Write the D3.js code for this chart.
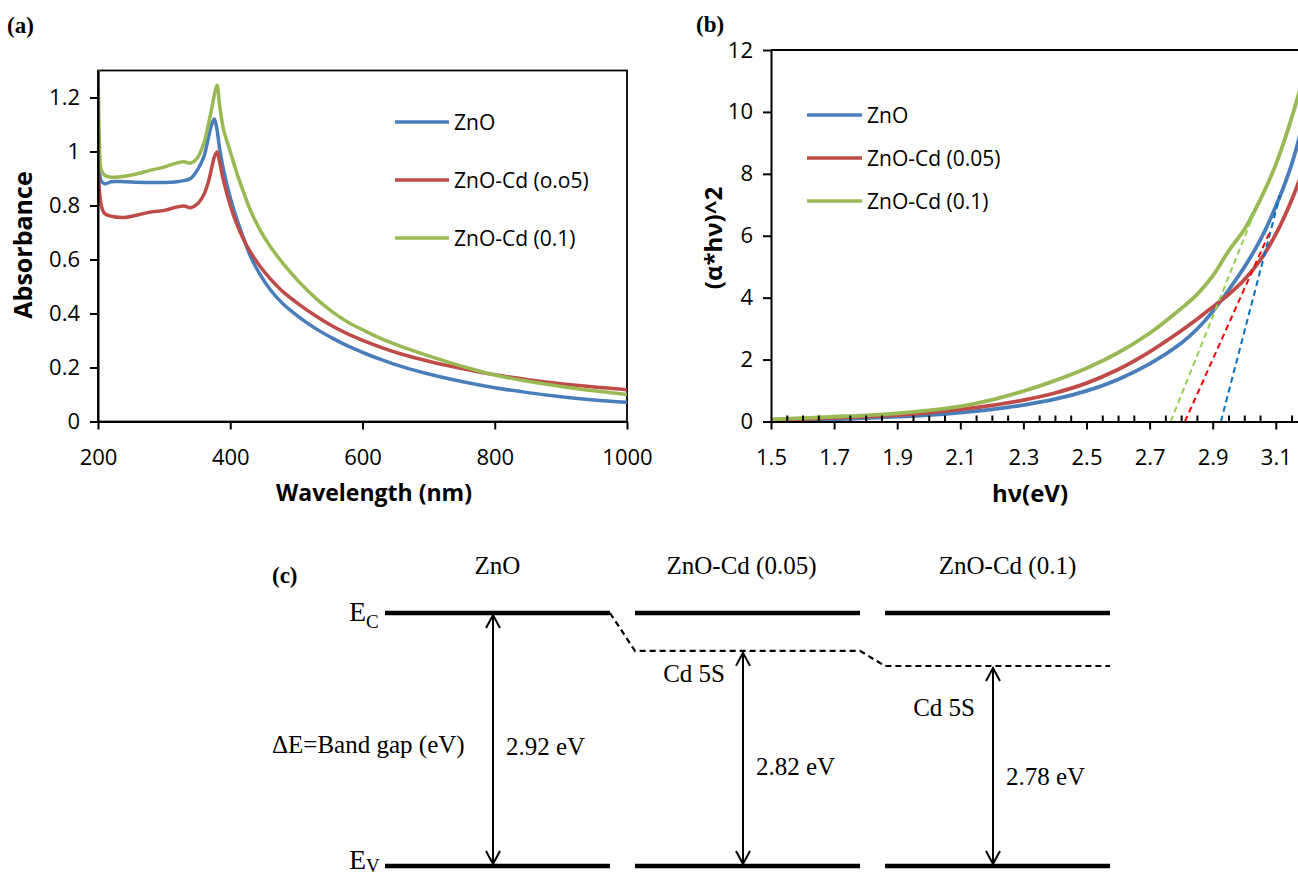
<!DOCTYPE html>
<html>
<head>
<meta charset="utf-8">
<script src="https://cdnjs.cloudflare.com/ajax/libs/d3/7.8.5/d3.min.js"></script>
<style>
  body { margin: 0; background: #fff; }
  text { fill: #000; }
  .sans { font-family: "Open Sans", sans-serif; }
  .serif { font-family: "Liberation Serif", "Times New Roman", serif; }
</style>
</head>
<body>
<div id="figure"></div>
<script>
// ZnO / ZnO-Cd figure: absorbance, tauc plot and band diagram

// panel (a) absorbance spectra
let wavelength = [200, 202, 205, 210, 220, 240, 260, 280, 300, 320, 330, 340, 350, 360, 366, 372, 376, 380, 384, 390,
  400, 410, 420, 430, 445, 460, 480, 505, 530, 555, 580, 606, 630, 656, 700, 750, 800, 850, 900, 950, 1000];
let absZnO = [0.98, 0.93, 0.89, 0.88, 0.888, 0.888, 0.886, 0.885, 0.885, 0.888, 0.892, 0.90, 0.93, 0.98, 1.04, 1.10, 1.12, 1.08, 1.01, 0.93,
  0.83, 0.75, 0.68, 0.615, 0.545, 0.49, 0.435, 0.385, 0.343, 0.308, 0.277, 0.25, 0.228, 0.206, 0.176, 0.148, 0.125, 0.107, 0.092, 0.080, 0.071];
let absCd05 = [0.97, 0.86, 0.80, 0.77, 0.76, 0.756, 0.765, 0.776, 0.782, 0.795, 0.798, 0.792, 0.805, 0.84, 0.88, 0.94, 0.98, 0.998, 0.96, 0.89,
  0.80, 0.73, 0.675, 0.63, 0.575, 0.53, 0.48, 0.432, 0.39, 0.353, 0.322, 0.295, 0.273, 0.252, 0.223, 0.196, 0.173, 0.155, 0.14, 0.128, 0.118];
let absCd10 = [1.35, 1.05, 0.93, 0.912, 0.905, 0.908, 0.918, 0.931, 0.942, 0.958, 0.962, 0.957, 0.975, 1.03, 1.09, 1.16, 1.21, 1.245, 1.17, 1.08,
  1.0, 0.92, 0.85, 0.785, 0.71, 0.65, 0.585, 0.515, 0.455, 0.405, 0.365, 0.333, 0.305, 0.28, 0.243, 0.205, 0.172, 0.149, 0.13, 0.114, 0.10];
let legendA = ["ZnO", "ZnO-Cd (o.o5)", "ZnO-Cd (0.1)"];
let ticksAx = [200, 400, 600, 800, 1000];
let ticksAy = [0, 0.2, 0.4, 0.6, 0.8, 1, 1.2];
let labelsAy = ["0", "0.2", "0.4", "0.6", "0.8", "1", "1.2"];

// panel (b) tauc plot
let energy = [1.5, 1.6, 1.7, 1.8, 1.9, 2.0, 2.1, 2.2, 2.3, 2.4, 2.5, 2.6, 2.7, 2.8, 2.85, 2.9, 2.95, 3.0, 3.05, 3.1, 3.15, 3.2];
let taucZnO = [0.02, 0.04, 0.07, 0.11, 0.155, 0.21, 0.29, 0.39, 0.53, 0.72, 0.99, 1.36, 1.86, 2.53, 2.98, 3.55, 4.24, 4.98, 5.85, 6.95, 8.3, 10.2];
let taucCd05 = [0.05, 0.08, 0.12, 0.16, 0.21, 0.29, 0.39, 0.52, 0.69, 0.92, 1.24, 1.68, 2.25, 2.93, 3.3, 3.7, 4.1, 4.58, 5.2, 6.05, 7.15, 8.5];
let taucCd10 = [0.07, 0.11, 0.155, 0.2, 0.265, 0.36, 0.49, 0.70, 0.98, 1.32, 1.72, 2.22, 2.85, 3.65, 4.1, 4.7, 5.5, 6.2, 7.15, 8.3, 9.8, 11.6];
let legendB = ["ZnO", "ZnO-Cd (0.05)", "ZnO-Cd (0.1)"];
// linear fits: x-intercept and upper end of each dashed line
let fitStart = [2.926, 2.812, 2.767];
let fitEndX = [3.113, 3.08, 3.04];
let fitEndY = [7.3, 6.1, 6.95];
let ticksBx = [1.5, 1.7, 1.9, 2.1, 2.3, 2.5, 2.7, 2.9, 3.1];
let labelsBx = ["1.5", "1.7", "1.9", "2.1", "2.3", "2.5", "2.7", "2.9", "3.1"];
let ticksBy = [0, 2, 4, 6, 8, 10, 12];

// panel (c) band diagram
let bandNames = ["ZnO", "ZnO-Cd (0.05)", "ZnO-Cd (0.1)"];
let bandGaps = [2.92, 2.82, 2.78];
let gapLabels = ["2.92 eV", "2.82 eV", "2.78 eV"];

// colors
let colors = ["#4A7EBB", "#BE4B48", "#98B954"];
let fitColors = ["#0070C0", "#FF0000", "#92D050"];

let svg = d3.select("#figure").append("svg")
  .attr("width", 1298)
  .attr("height", 879);

let defs = svg.append("defs");

function styleAxis(g, fontSize) {
  g.select(".domain").attr("stroke", "#000").attr("stroke-width", 2);
  g.selectAll(".tick line").attr("stroke", "#000").attr("stroke-width", 2);
  g.selectAll(".tick text")
    .attr("class", "sans")
    .attr("font-size", fontSize)
    .attr("fill", "#000");
}

function drawLegend(g, names, x0, x1, ys) {
  names.forEach(function(name, i) {
    g.append("line")
      .attr("x1", x0).attr("x2", x1)
      .attr("y1", ys[i]).attr("y2", ys[i])
      .attr("stroke", colors[i])
      .attr("stroke-width", 3.5);
    g.append("text")
      .attr("class", "sans")
      .attr("x", x1 + 5)
      .attr("y", ys[i])
      .attr("dy", "0.4em")
      .attr("font-size", 21)
      .text(name);
  });
}

// PANEL A
function panelA() {
  let x = d3.scaleLinear().domain([200, 1000]).range([98, 627]);
  let y = d3.scaleLinear().domain([0, 1.3]).range([421.5, 70.5]);
  let g = svg.append("g");

  defs.append("clipPath").attr("id", "clipA")
    .append("rect")
    .attr("x", x(200)).attr("y", y(1.3))
    .attr("width", x(1000) - x(200)).attr("height", y(0) - y(1.3));

  // frame
  g.append("rect")
    .attr("x", x(200)).attr("y", y(1.3))
    .attr("width", x(1000) - x(200)).attr("height", y(0) - y(1.3))
    .attr("fill", "none")
    .attr("stroke", "#000")
    .attr("stroke-width", 1.8);

  let line = d3.line()
    .x(function(d) { return x(d[0]); })
    .y(function(d) { return y(d[1]); })
    .curve(d3.curveCatmullRom.alpha(0.5));

  [absZnO, absCd05, absCd10].forEach(function(vals, i) {
    g.append("path")
      .datum(d3.zip(wavelength, vals))
      .attr("clip-path", "url(#clipA)")
      .attr("fill", "none")
      .attr("stroke", colors[i])
      .attr("stroke-width", 3.5)
      .attr("stroke-linejoin", "round")
      .attr("d", line);
  });

  let xAxis = g.append("g")
    .attr("transform", "translate(0," + y(0) + ")")
    .call(d3.axisBottom(x).tickValues(ticksAx).tickFormat(d3.format("d"))
      .tickSize(8).tickSizeOuter(0).tickPadding(20));
  styleAxis(xAxis, 22);

  let yAxis = g.append("g")
    .attr("transform", "translate(" + x(200) + ",0)")
    .call(d3.axisLeft(y).tickValues(ticksAy)
      .tickFormat(function(d, i) { return labelsAy[i]; })
      .tickSize(8).tickSizeOuter(0).tickPadding(10));
  styleAxis(yAxis, 22);

  g.append("text")
    .attr("class", "sans")
    .attr("font-weight", "bold")
    .attr("font-size", 23)
    .attr("text-anchor", "middle")
    .attr("x", 374)
    .attr("y", 501)
    .text("Wavelength (nm)");

  g.append("text")
    .attr("class", "sans")
    .attr("font-weight", "bold")
    .attr("font-size", 25)
    .attr("text-anchor", "middle")
    .attr("transform", "translate(32,245)rotate(-90)")
    .text("Absorbance");

  drawLegend(g, legendA, 395, 449, [122, 180, 238]);

  g.append("text")
    .attr("class", "serif")
    .attr("font-weight", "bold")
    .attr("font-size", 23)
    .attr("x", 7).attr("y", 33)
    .text("(a)");
}

// PANEL B
function panelB() {
  let x = d3.scaleLinear().domain([1.5, 3.3]).range([771, 771 + 9 * 63.1]);
  let y = d3.scaleLinear().domain([0, 12]).range([421.5, 50]);
  let g = svg.append("g");

  // top border
  g.append("line")
    .attr("x1", x(1.5)).attr("x2", x(3.3))
    .attr("y1", y(12)).attr("y2", y(12))
    .attr("stroke", "#000")
    .attr("stroke-width", 1.8);

  let line = d3.line()
    .x(function(d) { return x(d[0]); })
    .y(function(d) { return y(d[1]); })
    .curve(d3.curveCatmullRom.alpha(0.5));

  [taucZnO, taucCd05, taucCd10].forEach(function(vals, i) {
    g.append("path")
      .datum(d3.zip(energy, vals))
      .attr("fill", "none")
      .attr("stroke", colors[i])
      .attr("stroke-width", 3.8)
      .attr("d", line);
  });

  // extrapolated band gap lines
  fitStart.forEach(function(e0, i) {
    g.append("line")
      .attr("x1", x(e0)).attr("y1", y(0))
      .attr("x2", x(fitEndX[i])).attr("y2", y(fitEndY[i]))
      .attr("stroke", fitColors[i])
      .attr("stroke-width", 2)
      .attr("stroke-dasharray", "6,4");
  });

  // minor ticks point inwards
  let majors = d3.range(150, 335, 20);
  let minors = d3.range(150, 335, 5)
    .filter(function(d) { return majors.indexOf(d) < 0; })
    .map(function(d) { return d / 100; });
  let minorAxis = g.append("g")
    .attr("transform", "translate(0," + y(0) + ")")
    .call(d3.axisBottom(x).tickValues(minors).tickFormat("").tickSize(-6).tickSizeOuter(0));
  styleAxis(minorAxis, 22);

  let xAxis = g.append("g")
    .attr("transform", "translate(0," + y(0) + ")")
    .call(d3.axisBottom(x).tickValues(ticksBx)
      .tickFormat(function(d, i) { return labelsBx[i]; })
      .tickSize(8).tickSizeOuter(0).tickPadding(20));
  styleAxis(xAxis, 22);

  let yAxis = g.append("g")
    .attr("transform", "translate(" + x(1.5) + ",0)")
    .call(d3.axisLeft(y).tickValues(ticksBy).tickFormat(d3.format("d"))
      .tickSize(8).tickSizeOuter(0).tickPadding(10));
  styleAxis(yAxis, 22);

  g.append("text")
    .attr("class", "sans")
    .attr("font-weight", "bold")
    .attr("font-size", 24)
    .attr("text-anchor", "middle")
    .attr("x", 1030)
    .attr("y", 502)
    .text("h\u03BD(eV)");

  g.append("text")
    .attr("class", "sans")
    .attr("font-weight", "bold")
    .attr("font-size", 24)
    .attr("text-anchor", "middle")
    .attr("transform", "translate(722,238)rotate(-90)")
    .text("(\u03B1*h\u03BD)^2");

  drawLegend(g, legendB, 807, 862, [115, 158, 201]);

  g.append("text")
    .attr("class", "serif")
    .attr("font-weight", "bold")
    .attr("font-size", 23)
    .attr("x", 696).attr("y", 32)
    .text("(b)");
}

// PANEL C
function panelC() {
  let g = svg.append("g");
  let col = d3.scaleBand().domain(bandNames).range([385, 1110]).paddingInner(0.1);
  let bw = col.bandwidth();
  // conduction side levels (schematic scale, not to absolute energy)
  let level = d3.scaleLinear().domain([2.92, 2.78]).range([613, 666]);
  let yV = 866;

  // solid Ec and Ev lines
  bandNames.forEach(function(name, i) {
    g.append("line")
      .attr("x1", col(name)).attr("x2", col(name) + bw)
      .attr("y1", level(bandGaps[0])).attr("y2", level(bandGaps[0]))
      .attr("stroke", "#000").attr("stroke-width", 4.5);
    g.append("line")
      .attr("x1", col(name)).attr("x2", col(name) + bw)
      .attr("y1", yV).attr("y2", yV)
      .attr("stroke", "#000").attr("stroke-width", 4.5);
  });

  // dashed Cd 5S levels connected from ZnO Ec
  let pts = [[col(bandNames[0]) + bw, level(bandGaps[0])]];
  for (let i = 1; i < bandNames.length; i++) {
    pts.push([col(bandNames[i]), level(bandGaps[i])]);
    pts.push([col(bandNames[i]) + bw, level(bandGaps[i])]);
  }
  g.append("path")
    .attr("d", d3.line()(pts))
    .attr("fill", "none")
    .attr("stroke", "#000")
    .attr("stroke-width", 2.2)
    .attr("stroke-dasharray", "6,4");

  // arrows and labels
  let cdOffset = [0, 31, 50];
  let titleShift = [0, -6, 10];
  bandNames.forEach(function(name, i) {
    let ax = col(name) + bw * 0.48;
    let top = level(bandGaps[i]) + 2;
    let bot = yV - 2;
    g.append("line")
      .attr("x1", ax).attr("x2", ax)
      .attr("y1", top).attr("y2", bot)
      .attr("stroke", "#000").attr("stroke-width", 2);
    g.append("path")
      .attr("d", "M" + (ax - 7) + "," + (top + 13) + "L" + ax + "," + top + "L" + (ax + 7) + "," + (top + 13))
      .attr("fill", "none").attr("stroke", "#000").attr("stroke-width", 2);
    g.append("path")
      .attr("d", "M" + (ax - 7) + "," + (bot - 13) + "L" + ax + "," + bot + "L" + (ax + 7) + "," + (bot - 13))
      .attr("fill", "none").attr("stroke", "#000").attr("stroke-width", 2);

    g.append("text")
      .attr("class", "serif")
      .attr("font-size", 25)
      .attr("x", ax + 13)
      .attr("y", (top + bot) / 2 + 15 + i * 2)
      .text(gapLabels[i]);

    g.append("text")
      .attr("class", "serif")
      .attr("font-size", 25)
      .attr("text-anchor", "middle")
      .attr("x", col(name) + bw / 2 + titleShift[i])
      .attr("y", 574)
      .text(name);

    if (i > 0) {
      g.append("text")
        .attr("class", "serif")
        .attr("font-size", 25)
        .attr("text-anchor", "end")
        .attr("x", ax - 18)
        .attr("y", level(bandGaps[i]) + cdOffset[i])
        .text("Cd 5S");
    }
  });

  g.append("text")
    .attr("class", "serif")
    .attr("font-size", 25)
    .attr("x", 272)
    .attr("y", 753)
    .text("\u0394E=Band gap (eV)");

  [["C", level(bandGaps[0]), 8, 7], ["V", yV, 3, 3]].forEach(function(d) {
    let t = g.append("text")
      .attr("class", "serif")
      .attr("font-size", 28)
      .attr("x", 349)
      .attr("y", d[1] + d[2]);
    t.append("tspan").text("E");
    t.append("tspan").attr("font-size", 19).attr("dy", d[3]).text(d[0]);
  });

  g.append("text")
    .attr("class", "serif")
    .attr("font-weight", "bold")
    .attr("font-size", 23)
    .attr("x", 272).attr("y", 583)
    .text("(c)");
}

panelA();
panelB();
panelC();
</script>
</body>
</html>
